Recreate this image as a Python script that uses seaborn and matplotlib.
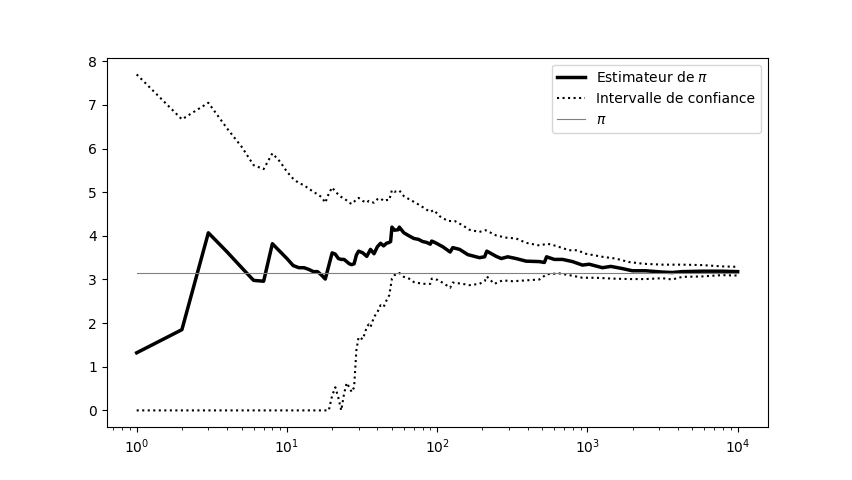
import numpy as np
import pandas as pd
import matplotlib
matplotlib.use("Agg")
import matplotlib.pyplot as plt
import seaborn as sns

# Estimateur de pi
n_est = [1, 2, 3, 4, 5, 6, 7, 8, 9, 10, 11, 12, 13, 14, 15, 16, 17, 18, 20, 21,
         22, 23, 24, 25, 26, 27, 28, 29, 30, 32, 34, 35, 36, 38, 40, 42, 44, 46,
         48, 49, 50, 52, 55, 56, 60, 65, 70, 75, 80, 85, 90, 92, 95, 100, 109,
         122, 127, 141, 160, 191, 207, 214, 247, 267, 295, 335, 391, 479, 517,
         535, 602, 683, 796, 927, 1028, 1259, 1431, 1709, 1990, 2442, 3150,
         3667, 4274, 5800, 7870, 10000]
est = [1.32, 1.85, 4.07, 3.63, 3.27, 2.98, 2.96, 3.82, 3.64, 3.48, 3.32, 3.27,
       3.27, 3.23, 3.18, 3.18, 3.10, 3.01, 3.61, 3.58, 3.48, 3.46, 3.46, 3.41,
       3.36, 3.34, 3.36, 3.56, 3.65, 3.61, 3.53, 3.61, 3.69, 3.59, 3.75, 3.83,
       3.77, 3.83, 3.85, 3.87, 4.20, 4.13, 4.14, 4.20, 4.07, 4.00, 3.94, 3.92,
       3.87, 3.85, 3.81, 3.88, 3.86, 3.82, 3.75, 3.63, 3.73, 3.69, 3.57, 3.50,
       3.52, 3.65, 3.53, 3.48, 3.52, 3.48, 3.42, 3.41, 3.39, 3.52, 3.46, 3.46,
       3.41, 3.33, 3.35, 3.27, 3.30, 3.25, 3.20, 3.20, 3.17, 3.16, 3.18, 3.19,
       3.19, 3.18]

# Borne superieure
n_up = [1, 2, 3, 4, 5, 6, 7, 8, 9, 10, 11, 12, 13, 14, 15, 16, 17, 18, 19, 20,
        21, 22, 23, 24, 25, 26, 27, 28, 29, 30, 32, 34, 35, 36, 38, 40, 42, 44,
        46, 48, 50, 52, 56, 60, 65, 70, 75, 80, 85, 90, 95, 104, 118, 131, 148,
        164, 191, 210, 247, 287, 335, 391, 479, 543, 617, 756, 855, 976, 1259,
        1540, 1890, 2360, 3150, 4274, 5800, 7870, 10000]
up = [7.70, 6.67, 7.05, 6.46, 6.04, 5.62, 5.53, 5.89, 5.70, 5.47, 5.31, 5.21,
      5.16, 5.08, 5.01, 4.95, 4.89, 4.76, 4.97, 5.11, 5.01, 4.95, 4.89, 4.86,
      4.81, 4.76, 4.73, 4.78, 4.84, 4.87, 4.80, 4.76, 4.80, 4.78, 4.76, 4.84,
      4.86, 4.80, 4.82, 4.82, 5.05, 5.01, 5.04, 4.91, 4.84, 4.78, 4.72, 4.66,
      4.60, 4.55, 4.59, 4.45, 4.34, 4.34, 4.24, 4.14, 4.09, 4.13, 4.01, 3.96,
      3.94, 3.84, 3.78, 3.82, 3.77, 3.67, 3.67, 3.59, 3.52, 3.48, 3.40, 3.36,
      3.34, 3.34, 3.33, 3.30, 3.29]

# Borne inferieure
n_low = [1, 2, 3, 5, 8, 12, 15, 18, 19, 20, 21, 22, 23, 24, 25, 26, 27, 28, 29,
         30, 32, 34, 35, 36, 38, 40, 42, 44, 46, 48, 50, 52, 56, 60, 65, 70, 80,
         90, 92, 101, 112, 122, 127, 148, 164, 191, 207, 214, 240, 273, 319,
         391, 479, 535, 647, 756, 927, 1130, 1470, 1890, 2442, 3150, 3667,
         4274, 5800, 7870, 10000]
low = [0, 0, 0, 0, 0, 0, 0, 0, 0.0, 0.34, 0.53, 0.29, 0.0, 0.38, 0.63, 0.53,
       0.42, 0.53, 1.38, 1.68, 1.63, 1.91, 1.97, 1.91, 2.14, 2.25, 2.41, 2.37,
       2.52, 2.64, 3.02, 3.10, 3.15, 3.06, 3.02, 2.94, 2.90, 2.90, 3.02, 2.99,
       2.90, 2.81, 2.93, 2.90, 2.87, 2.90, 2.96, 3.07, 2.90, 2.98, 2.96, 2.98,
       3.00, 3.12, 3.14, 3.10, 3.04, 3.04, 3.02, 3.01, 3.01, 3.03, 3.00, 3.06,
       3.07, 3.10, 3.09]

n_pi = [1, 10000]
pi_val = [np.pi, np.pi]

fig, ax = plt.subplots(figsize=(8.53, 4.8), dpi=100)

sns.lineplot(x=n_est, y=est, ax=ax, color="black", linewidth=2.5,
             estimator=None, sort=False, label=r"Estimateur de $\pi$")
sns.lineplot(x=n_up, y=up, ax=ax, color="black", linewidth=1.5, linestyle=":",
             estimator=None, sort=False, label="Intervalle de confiance")
sns.lineplot(x=n_low, y=low, ax=ax, color="black", linewidth=1.5, linestyle=":",
             estimator=None, sort=False)
sns.lineplot(x=n_pi, y=pi_val, ax=ax, color="grey", linewidth=0.8,
             estimator=None, sort=False, label=r"$\pi$")

ax.set_xscale("log")
ax.legend(loc="upper right")

plt.savefig("out.png", dpi=100)
